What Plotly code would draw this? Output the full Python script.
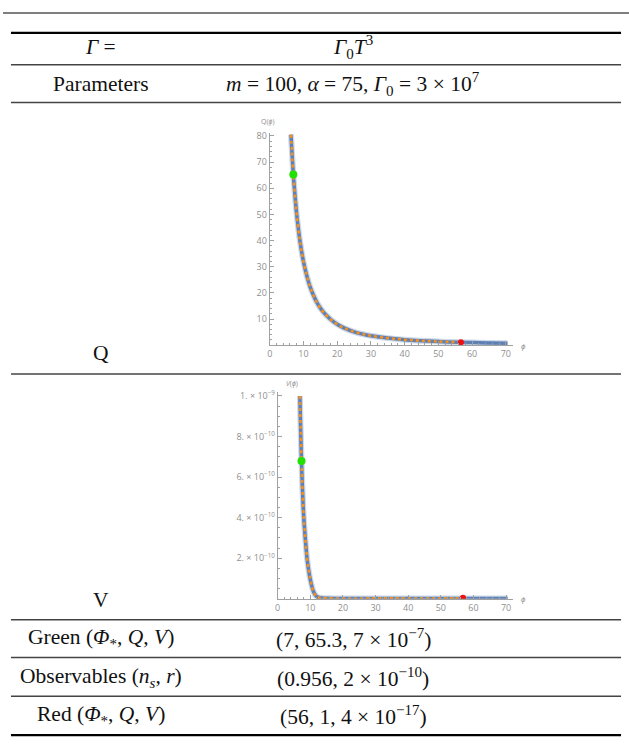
import plotly.graph_objects as go

# ---------------- data ----------------
# Q(phi) curve
phi_q = [6.3, 6.6, 7.0, 7.5, 8, 9, 10, 11, 12, 13, 14, 15, 16, 18, 20, 22, 25, 28, 30,
         35, 40, 45, 50, 56, 60, 65, 70.5]
q_vals = [80.5, 73.5, 65.3, 57, 50, 39.5, 32, 26.5, 22.2, 19, 16.3, 14.2, 12.5, 9.9, 8.0,
          6.6, 5.1, 4.1, 3.6, 2.7, 2.1, 1.7, 1.4, 1.1, 1.0, 0.85, 0.75]
# V(phi) curve (values in units of 1e-10)
phi_v = [6.8, 7.0, 7.3, 7.6, 8.0, 8.5, 9.0, 9.5, 10, 10.5, 11, 11.5, 12, 13, 15, 20, 30,
         40, 50, 57, 60, 70.5]
v_vals_e10 = [10, 8.6, 6.8, 5.4, 4.0, 2.9, 2.0, 1.4, 0.95, 0.6, 0.35, 0.2, 0.1, 0.05, 0.03,
              0.02, 0.02, 0.02, 0.02, 0.02, 0.02, 0.02]
orange_end_phi = 57

green_q = (7.0, 65.3)
red_q = (56.7, 1.1)
green_v = (7.3, 6.8)
red_v = (56.8, 0.05)

q_xticks = [0, 10, 20, 30, 40, 50, 60, 70]
q_yticks = [10, 20, 30, 40, 50, 60, 70, 80]
v_xticks = [0, 10, 20, 30, 40, 50, 60, 70]
v_yticks_e10 = [2, 4, 6, 8, 10]
v_yticktext = ["2. × 10<sup>−10</sup>", "4. × 10<sup>−10</sup>", "6. × 10<sup>−10</sup>",
               "8. × 10<sup>−10</sup>", "1. × 10<sup>−9</sup>"]

row_labels = ["<i>Γ</i> =", "Parameters", "Q", "V",
              "Green (<i>Φ</i><sub>*</sub>, <i>Q</i>, <i>V</i>)",
              "Observables (<i>n</i><sub><i>s</i></sub>, <i>r</i>)",
              "Red (<i>Φ</i><sub>*</sub>, <i>Q</i>, <i>V</i>)"]
row_values = ["<i>Γ</i><sub>0</sub><i>T</i><sup>3</sup>",
              "<i>m</i> = 100, <i>α</i> = 75, <i>Γ</i><sub>0</sub> = 3 × 10<sup>7</sup>",
              "", "",
              "(7, 65.3, 7 × 10<sup>−7</sup>)",
              "(0.956, 2 × 10<sup>−10</sup>)",
              "(56, 1, 4 × 10<sup>−17</sup>)"]

# ---------------- layout helpers ----------------
W, H = 629, 751
def px(x):
    return x / W
def py(y):
    return 1 - y / H

v_vals = [v * 1e-10 for v in v_vals_e10]
BLUE = "#5E81B5"
ORANGE = "#F5901E"
AX = "#A0A0A0"
TICKF = dict(family="Open Sans, Arial, sans-serif", size=9, color="#8F8F8F")

fig = go.Figure()

def add_curve(xs, ys, xa, ya):
    fig.add_trace(go.Scatter(x=xs, y=ys, mode="lines", xaxis=xa, yaxis=ya,
                             line=dict(color="rgba(94,129,181,0.30)", width=6, shape="spline"),
                             hoverinfo="skip", showlegend=False))
    fig.add_trace(go.Scatter(x=xs, y=ys, mode="lines", xaxis=xa, yaxis=ya,
                             line=dict(color=BLUE, width=3.5, shape="spline"),
                             showlegend=False))
    ox = [x for x in xs if x <= orange_end_phi]
    oy = [y for x, y in zip(xs, ys) if x <= orange_end_phi]
    fig.add_trace(go.Scatter(x=ox, y=oy, mode="lines", xaxis=xa, yaxis=ya,
                             line=dict(color=ORANGE, width=2.6, dash="3px,3px", shape="spline"),
                             showlegend=False))

add_curve(phi_q, q_vals, "x", "y")
fig.add_trace(go.Scatter(x=[green_q[0]], y=[green_q[1]], mode="markers", xaxis="x", yaxis="y",
                         marker=dict(color="#22E000", size=8), showlegend=False))
fig.add_trace(go.Scatter(x=[red_q[0]], y=[red_q[1]], mode="markers", xaxis="x", yaxis="y",
                         marker=dict(color="#F01010", size=6), showlegend=False))

add_curve(phi_v, v_vals, "x2", "y2")
fig.add_trace(go.Scatter(x=[green_v[0]], y=[green_v[1] * 1e-10], mode="markers", xaxis="x2", yaxis="y2",
                         marker=dict(color="#22E000", size=8), showlegend=False))
fig.add_trace(go.Scatter(x=[red_v[0]], y=[red_v[1] * 1e-10], mode="markers", xaxis="x2", yaxis="y2",
                         marker=dict(color="#F01010", size=6), showlegend=False))

def axis_common():
    return dict(showgrid=False, zeroline=False, showline=True, linecolor=AX, linewidth=1,
                ticks="inside", ticklen=4, tickcolor=AX, tickwidth=1, tickfont=TICKF,
                fixedrange=True)

# Q plot axes
q_x0, q_x1 = 268, 512
q_y0, q_y1 = 343, 130
fig.update_layout(
    xaxis=dict(domain=[px(q_x0), px(q_x1)], range=[0, 72], anchor="y",
               tickvals=q_xticks, minor=dict(dtick=2, ticks="inside", ticklen=2, tickcolor=AX),
               **axis_common()),
    yaxis=dict(domain=[py(q_y0), py(q_y1)], range=[0, 81], anchor="x",
               tickvals=q_yticks, minor=dict(dtick=2, ticks="inside", ticklen=2, tickcolor=AX),
               **axis_common()),
)
# V plot axes
v_x0, v_x1 = 276, 512
v_y0, v_y1 = 598, 390
fig.update_layout(
    xaxis2=dict(domain=[px(v_x0), px(v_x1)], range=[0, 72], anchor="y2",
                tickvals=v_xticks, minor=dict(dtick=2, ticks="inside", ticklen=2, tickcolor=AX),
                **axis_common()),
    yaxis2=dict(domain=[py(v_y0), py(v_y1)], range=[0, 1.02e-9], anchor="x2",
                tickvals=[v * 1e-10 for v in v_yticks_e10], ticktext=v_yticktext,
                minor=dict(dtick=0.5e-10, ticks="inside", ticklen=2, tickcolor=AX),
                **axis_common()),
)

annotations = []
# axis labels
annotations.append(dict(x=px(q_x0 - 2), y=py(q_y1 - 5), xref="paper", yref="paper",
                        text="Q(<i>ϕ</i>)", showarrow=False, xanchor="center", yanchor="bottom",
                        font=dict(family="Open Sans, Arial", size=7, color="#8F8F8F")))
annotations.append(dict(x=px(q_x1 + 6), y=py(q_y0), xref="paper", yref="paper",
                        text="<i>ϕ</i>", showarrow=False, xanchor="left", yanchor="middle",
                        font=dict(family="Open Sans, Arial", size=8, color="#8F8F8F")))
annotations.append(dict(x=px(v_x0 + 14), y=py(v_y1 - 2), xref="paper", yref="paper",
                        text="<i>V</i>(<i>ϕ</i>)", showarrow=False, xanchor="center", yanchor="bottom",
                        font=dict(family="Open Sans, Arial", size=7, color="#8F8F8F")))
annotations.append(dict(x=px(v_x1 + 6), y=py(v_y0), xref="paper", yref="paper",
                        text="<i>ϕ</i>", showarrow=False, xanchor="left", yanchor="middle",
                        font=dict(family="Open Sans, Arial", size=8, color="#8F8F8F")))

# table text
TF = dict(family="Liberation Serif, Times New Roman, serif", size=21.5, color="#111")
label_x, value_x = 98, 352
row_y = [43, 80, 351, 599, 638, 677, 715]
for lab, val, yy in zip(row_labels, row_values, row_y):
    annotations.append(dict(x=px(label_x), y=py(yy), xref="paper", yref="paper", text=lab,
                            showarrow=False, xanchor="center", yanchor="middle", font=TF))
    if val:
        annotations.append(dict(x=px(value_x), y=py(yy), xref="paper", yref="paper", text=val,
                                showarrow=False, xanchor="center", yanchor="middle", font=TF))

shapes = []
def hline(y, x0=8, x1=621, w=1.5, c="#333"):
    shapes.append(dict(type="line", xref="paper", yref="paper", x0=px(x0), x1=px(x1),
                       y0=py(y), y1=py(y), line=dict(color=c, width=w)))
hline(9, 0, 629, 1.5, "#555")
hline(29, w=2.2, c="#000")
for yy in [61, 99, 372, 619, 657, 696]:
    hline(yy, w=1.5, c="#444")
hline(735, w=2.2, c="#000")

fig.update_layout(width=W, height=H, margin=dict(l=0, r=0, t=0, b=0),
                  paper_bgcolor="white", plot_bgcolor="rgba(0,0,0,0)",
                  annotations=annotations, shapes=shapes, showlegend=False)

fig.write_html("out.html")
